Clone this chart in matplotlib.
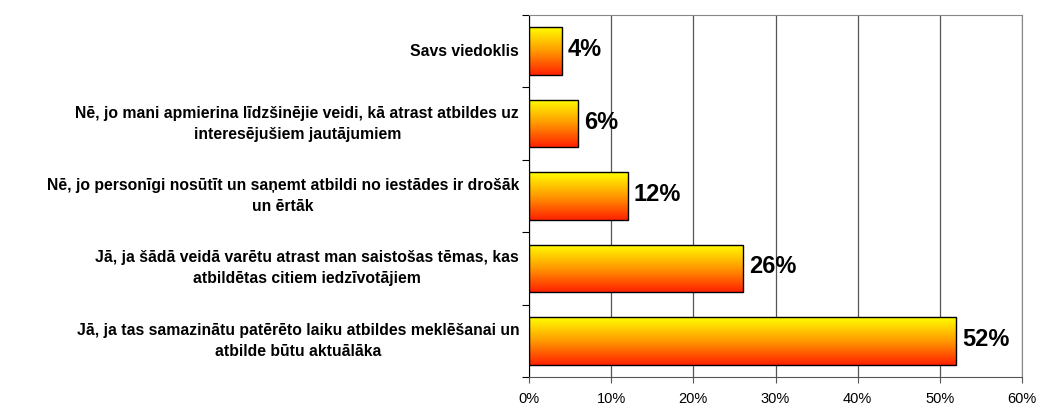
import matplotlib
matplotlib.use("Agg")
import matplotlib.pyplot as plt
import numpy as np
from matplotlib.colors import LinearSegmentedColormap

plt.rcParams['font.family'] = ['Liberation Sans', 'DejaVu Sans']

categories = [
    "Jā, ja tas samazinātu patērēto laiku atbildes meklēšanai un\natbilde būtu aktuālāka",
    "Jā, ja šādā veidā varētu atrast man saistošas tēmas, kas\natbildētas citiem iedzīvotājiem",
    "Nē, jo personīgi nosūtīt un saņemt atbildi no iestādes ir drošāk\nun ērtāk",
    "Nē, jo mani apmierina līdzšinējie veidi, kā atrast atbildes uz\ninteresējušiem jautājumiem",
    "Savs viedoklis",
]
values = [52, 26, 12, 6, 4]
value_labels = ["52%", "26%", "12%", "6%", "4%"]
xticks = [0, 10, 20, 30, 40, 50, 60]
xtick_labels = ["0%", "10%", "20%", "30%", "40%", "50%", "60%"]

fig = plt.figure(figsize=(10.38, 4.08), dpi=100)
ax = fig.add_axes([529/1038, 1 - 377/408, (1022-529)/1038, (377-15)/408])

ypos = np.arange(len(categories))
bars = ax.barh(ypos, values, height=0.66, color='none', edgecolor='black', linewidth=1.0, zorder=3)

cmap = LinearSegmentedColormap.from_list('yr', ['#FFFF00', '#FF9900', '#FF2000'])
grad = np.linspace(0, 1, 256).reshape(-1, 1)
for b in bars:
    x0, y0 = b.get_x(), b.get_y()
    w, h = b.get_width(), b.get_height()
    im = ax.imshow(grad, cmap=cmap, aspect='auto', extent=[x0, x0 + w, y0, y0 + h],
                   origin='upper', zorder=2)
    im.set_clip_path(b)

for y, v, lab in zip(ypos, values, value_labels):
    ax.text(v + 0.75, y + 0.02, lab, va='center', ha='left', fontsize=17, fontweight='bold', zorder=4)

ax.set_xlim(0, 60)
ax.set_ylim(-0.5, len(categories) - 0.5)
ax.set_xticks(xticks)
ax.set_xticklabels(xtick_labels, fontsize=10.5)
ax.xaxis.grid(True, color='#555555', linewidth=0.9, zorder=1)
ax.set_axisbelow(True)

ax.set_yticks(np.arange(-0.5, len(categories), 1.0))
ax.set_yticklabels([])
ax.tick_params(axis='y', direction='out', length=5, color='black')
ax.tick_params(axis='x', direction='out', length=4, color='#555555', pad=7)

for y, c in zip(ypos, categories):
    ax.text(-0.02, y, c, transform=ax.get_yaxis_transform(), ha='right', va='center',
            multialignment='center', fontsize=11.3, fontweight='bold', linespacing=1.5)

for s in ['top', 'right']:
    ax.spines[s].set_color('#888888')
ax.spines['bottom'].set_color('#555555')
ax.spines['left'].set_color('black')

fig.savefig('out.png', dpi=100, facecolor='white')
